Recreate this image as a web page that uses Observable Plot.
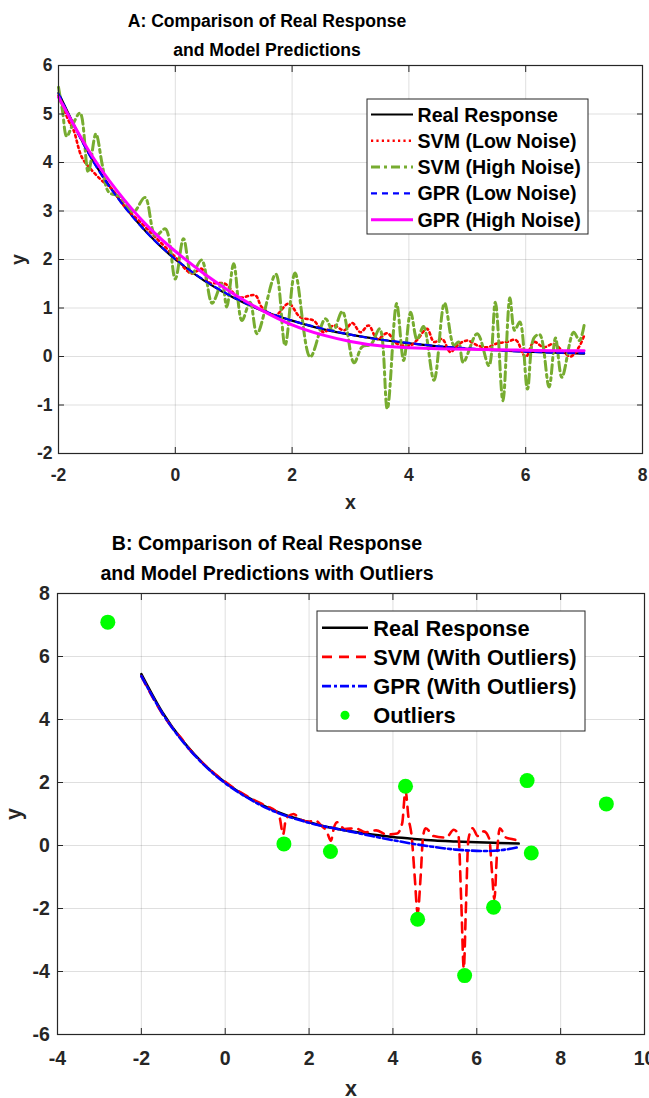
<!DOCTYPE html>
<html><head><meta charset="utf-8">
<script src="https://cdn.jsdelivr.net/npm/d3@7"></script>
<script src="https://cdn.jsdelivr.net/npm/@observablehq/plot@0.6"></script>
<style>
html,body{margin:0;padding:0;background:#fff;overflow:hidden;}
#chart{position:relative;width:649px;height:1098px;}
#chart svg{position:absolute;left:0;}
</style></head><body><div id="chart"></div>
<script>
// ---------------- DATA ----------------
const xGrid    = [-2, -1.5, -1, -0.5, 0, 0.5, 1, 1.5, 2, 2.5, 3, 3.5, 4, 4.5, 5, 5.5, 6, 6.5, 7];
const realY    = [5.44, 4.23, 3.30, 2.57, 2.00, 1.56, 1.21, 0.94, 0.74, 0.57, 0.45, 0.35, 0.27, 0.21, 0.16, 0.13, 0.10, 0.08, 0.06];
const gprLowY  = [5.42, 4.22, 3.29, 2.57, 2.01, 1.57, 1.22, 0.95, 0.74, 0.58, 0.45, 0.35, 0.28, 0.21, 0.17, 0.13, 0.10, 0.08, 0.07];
const gprHighY = [5.35, 4.28, 3.42, 2.72, 2.17, 1.70, 1.29, 0.94, 0.65, 0.45, 0.31, 0.22, 0.18, 0.16, 0.15, 0.14, 0.13, 0.12, 0.12];
const gprOutY  = [5.38, 4.20, 3.28, 2.55, 1.98, 1.54, 1.18, 0.92, 0.72, 0.57, 0.44, 0.30, 0.17, 0.05, -0.05, -0.13, -0.17, -0.16, -0.05];

const svmLowX = [-2.0,-1.83,-1.74,-1.60,-1.43,-1.26,-1.09,-0.86,-0.57,-0.34,0.0,0.28,0.45,0.57,0.85,1.08,1.37,1.48,1.71,1.94,2.14,2.37,2.54,2.71,2.89,3.03,3.17,3.31,3.46,3.63,3.80,4.03,4.14,4.31,4.43,4.57,4.71,4.83,5.0,5.17,5.34,5.51,5.68,5.83,6.0,6.14,6.31,6.48,6.65,6.77,6.91,7.0];
const svmLowY = [5.38,4.87,4.66,4.11,3.84,3.63,3.46,3.08,2.74,2.46,2.05,1.71,1.81,1.53,1.50,1.22,1.26,1.02,0.85,1.09,0.81,0.74,0.50,0.64,0.54,0.69,0.50,0.64,0.36,0.48,0.26,0.23,0.34,0.57,0.30,0.36,0.09,0.23,0.33,0.23,0.19,0.27,0.30,0.34,-0.01,0.30,0.19,0.26,0.09,0.0,0.19,0.43];

const svmHighX = [-2.00,-1.93,-1.86,-1.75,-1.63,-1.49,-1.36,-1.25,-1.14,-0.95,-0.72,-0.52,-0.34,-0.17,0.00,0.14,0.28,0.45,0.63,0.80,0.88,1.00,1.14,1.28,1.40,1.72,1.88,2.05,2.31,2.57,2.70,2.86,3.06,3.20,3.35,3.50,3.63,3.79,3.91,4.03,4.14,4.25,4.43,4.61,4.77,4.85,4.93,5.17,5.37,5.48,5.61,5.73,5.81,5.90,6.03,6.14,6.24,6.40,6.51,6.62,6.82,6.92,7.00];
const svmHighY = [5.55,5.05,4.54,4.80,5.02,3.80,4.59,3.95,3.39,3.30,2.98,3.28,2.49,2.63,1.60,2.43,1.70,1.99,1.10,1.51,1.02,1.91,0.74,1.12,0.47,1.70,0.23,1.72,-0.01,0.78,0.52,0.93,-0.13,0.20,0.25,0.57,-1.08,1.09,-0.08,0.91,0.35,0.62,-0.49,1.10,0.23,0.30,-0.12,0.47,-0.19,1.12,-0.91,1.21,0.54,0.71,-0.67,0.38,0.45,-0.63,0.38,-0.43,0.50,0.33,0.64];

const svmOutX = [-2.0,-1.75,-1.5,-1.25,-1.07,-0.85,-0.69,-0.5,-0.25,0.0,0.25,0.5,0.75,1.0,1.2,1.3,1.38,1.45,1.63,1.8,2.0,2.15,2.3,2.42,2.52,2.6,2.67,2.85,3.1,3.35,3.6,3.85,4.1,4.22,4.3,4.37,4.45,4.52,4.59,4.66,4.72,4.78,4.97,5.27,5.45,5.56,5.63,5.69,5.74,5.8,5.9,6.02,6.17,6.3,6.36,6.42,6.48,6.55,6.7,6.86,7.0];
const svmOutY = [5.38,4.75,4.18,3.72,3.44,3.05,2.82,2.57,2.28,2.02,1.78,1.58,1.40,1.24,1.10,0.88,0.35,0.85,1.0,0.82,0.76,0.79,0.62,0.45,0.15,0.6,0.74,0.52,0.55,0.42,0.48,0.35,0.38,0.7,1.75,0.9,0.25,-1.0,-2.15,-1.0,0.3,0.55,0.3,0.25,0.5,0.35,-1.8,-3.9,-2.0,0.2,0.55,0.3,0.45,0.2,-0.8,-1.7,-0.3,0.55,0.25,0.2,0.15];

const outlierX = [-2.80, 1.40, 2.51, 4.30, 4.59, 5.71, 6.40, 7.20, 7.30, 9.09];
const outlierY = [7.09, 0.05, -0.19, 1.88, -2.34, -4.13, -1.96, 2.06, -0.24, 1.32];

const xTicksA = [-2, 0, 2, 4, 6, 8];
const yTicksA = [-2, -1, 0, 1, 2, 3, 4, 5, 6];
const xTicksB = [-4, -2, 0, 2, 4, 6, 8, 10];
const yTicksB = [-6, -4, -2, 0, 2, 4, 6, 8];

const titleA = ["A: Comparison of Real Response", "and Model Predictions"];
const titleB = ["B: Comparison of Real Response", "and Model Predictions with Outliers"];
const legendA = ["Real Response", "SVM (Low Noise)", "SVM (High Noise)", "GPR (Low Noise)", "GPR (High Noise)"];
const legendB = ["Real Response", "SVM (With Outliers)", "GPR (With Outliers)", "Outliers"];

// ---------------- HELPERS ----------------
const FONT = '"Liberation Sans", Arial, Helvetica, sans-serif';
const fmt = d => String(d);
const pts = (xs, ys) => xs.map((x, i) => ({x, y: ys[i]}));

const real = pts(xGrid, realY);
const gprLow = pts(xGrid, gprLowY);
const gprHigh = pts(xGrid, gprHighY);
const gprOut = pts(xGrid, gprOutY);
const svmLow = pts(svmLowX, svmLowY);
const svmHigh = pts(svmHighX, svmHighY);
const svmOut = pts(svmOutX, svmOutY);
const outliers = pts(outlierX, outlierY);

const stA = {
  real:   {stroke: "#000000", strokeWidth: 2.2},
  svmLow: {stroke: "#ff0000", strokeWidth: 2.6, strokeDasharray: "2.2,3.2"},
  svmHigh:{stroke: "#77ac30", strokeWidth: 3, strokeDasharray: "9,4,3,4"},
  gprLow: {stroke: "#0000ff", strokeWidth: 2.2, strokeDasharray: "6,5"},
  gprHigh:{stroke: "#ff00ff", strokeWidth: 3}
};
const stB = {
  real:   {stroke: "#000000", strokeWidth: 2.5},
  svmOut: {stroke: "#ff0000", strokeWidth: 2.6, strokeDasharray: "10,7"},
  gprOut: {stroke: "#0000ff", strokeWidth: 2.6, strokeDasharray: "9,3,3,3"},
};

function panel(o) {
  return Plot.plot({
    width: 649, height: o.height,
    marginTop: o.mt, marginBottom: o.mb, marginLeft: o.ml, marginRight: o.mr,
    style: {fontFamily: FONT, fontWeight: "bold", color: "#262626", background: "transparent", overflow: "visible"},
    x: {domain: o.xDomain},
    y: {domain: o.yDomain},
    marks: [
      Plot.gridX(o.xTicks, {stroke: "#262626", strokeOpacity: 0.15, strokeWidth: 1}),
      Plot.gridY(o.yTicks, {stroke: "#262626", strokeOpacity: 0.15, strokeWidth: 1}),
      ...o.marks,
      Plot.frame({stroke: "#262626", strokeWidth: 1.2}),
      Plot.axisX(o.xTicks, {anchor: "bottom", tickSize: -6, tickPadding: o.xPad, tickFormat: fmt, fontSize: o.fs, label: null}),
      Plot.axisX(o.xTicks, {anchor: "top", tickSize: -6, tickFormat: () => "", label: null}),
      Plot.axisY(o.yTicks, {anchor: "left", tickSize: -6, tickPadding: o.yPad, tickFormat: fmt, fontSize: o.fs, label: null}),
      Plot.axisY(o.yTicks, {anchor: "right", tickSize: -6, tickFormat: () => "", label: null}),
      Plot.axisX([], {anchor: "bottom", tickSize: 0, label: "x", labelArrow: "none", labelAnchor: "center", labelOffset: o.xLab, fontSize: o.lfs}),
      Plot.axisY([], {anchor: "left", tickSize: 0, label: "y", labelArrow: "none", labelAnchor: "center", labelOffset: o.yLab, fontSize: o.lfs})
    ]
  });
}

const chart = document.getElementById("chart");

const plotA = panel({
  height: 520, mt: 65, mb: 67, ml: 58, mr: 7,
  xDomain: [-2, 8], yDomain: [-2, 6], xTicks: xTicksA, yTicks: yTicksA,
  fs: 17.5, lfs: 19.5, xPad: 21.4, yPad: 12, xLab: 55.5, yLab: 47,
  marks: [
    Plot.line(real, {x: "x", y: "y", curve: "natural", ...stA.real}),
    Plot.line(svmLow, {x: "x", y: "y", curve: "catmull-rom", ...stA.svmLow}),
    Plot.line(svmHigh, {x: "x", y: "y", curve: "catmull-rom", ...stA.svmHigh}),
    Plot.line(gprLow, {x: "x", y: "y", curve: "natural", ...stA.gprLow}),
    Plot.line(gprHigh, {x: "x", y: "y", curve: "natural", ...stA.gprHigh})
  ]
});
plotA.style.top = "0px";
chart.appendChild(plotA);

const plotB = panel({
  height: 578, mt: 73, mb: 64, ml: 57, mr: 5,
  xDomain: [-4, 10], yDomain: [-6, 8], xTicks: xTicksB, yTicks: yTicksB,
  fs: 19.5, lfs: 21.5, xPad: 22.4, yPad: 13.7, xLab: 61, yLab: 51.5,
  marks: [
    Plot.line(real, {x: "x", y: "y", curve: "natural", ...stB.real}),
    Plot.line(svmOut, {x: "x", y: "y", curve: "monotone-x", ...stB.svmOut}),
    Plot.line(gprOut, {x: "x", y: "y", curve: "natural", ...stB.gprOut}),
    Plot.dot(outliers, {x: "x", y: "y", r: 7.5, fill: "#00ff00", stroke: "none"})
  ]
});
plotB.style.top = "520px";
chart.appendChild(plotB);

// ---------------- TITLES & LEGENDS (overlay) ----------------
const ov = d3.create("svg")
  .attr("width", 649).attr("height", 1098)
  .style("top", "0px").style("pointer-events", "none")
  .style("font-family", FONT).style("font-weight", "bold");

function title(lines, fs, centers) {
  lines.forEach((t, i) => {
    ov.append("text").attr("x", 267).attr("y", centers[i] + 0.358 * fs)
      .attr("text-anchor", "middle").attr("font-size", fs).attr("fill", "#000").text(t);
  });
}
title(titleA, 17.6, [20.8, 49.8]);
title(titleB, 19.6, [542.5, 572.5]);

function legend(box, labels, styles, fs, rowY0, rowStep, sx1, sx2, tx) {
  ov.append("rect").attr("x", box[0]).attr("y", box[1]).attr("width", box[2]).attr("height", box[3])
    .attr("fill", "#fff").attr("stroke", "#262626").attr("stroke-width", 1);
  labels.forEach((lab, i) => {
    const y = rowY0 + i * rowStep;
    const s = styles[i];
    if (s.dot) {
      ov.append("circle").attr("cx", (sx1 + sx2) / 2).attr("cy", y).attr("r", s.dot).attr("fill", s.fill);
    } else {
      ov.append("line").attr("x1", sx1).attr("x2", sx2).attr("y1", y).attr("y2", y)
        .attr("stroke", s.stroke).attr("stroke-width", s.strokeWidth)
        .attr("stroke-dasharray", s.strokeDasharray || null);
    }
    ov.append("text").attr("x", tx).attr("y", y + 0.358 * fs).attr("font-size", fs).attr("fill", "#000").text(lab);
  });
}
legend([367, 99, 221, 135], legendA, [stA.real, stA.svmLow, stA.svmHigh, stA.gprLow, stA.gprHigh],
  19.6, 114.5, 26.3, 371, 413, 417.5);
legend([317, 611, 268, 120], legendB, [stB.real, stB.svmOut, stB.gprOut, {dot: 4.5, fill: "#00ff00"}],
  21.8, 627.7, 29.2, 322, 368, 373.3);

chart.appendChild(ov.node());
</script></body></html>
